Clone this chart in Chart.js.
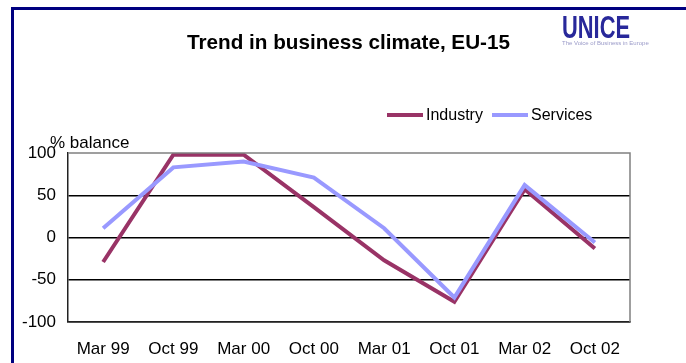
<!DOCTYPE html>
<html>
<head>
<meta charset="utf-8">
<script src="https://cdn.jsdelivr.net/npm/chart.js@4"></script>
<style>
  body { margin: 0; background: #fff; }
  .wrap { position: relative; width: 686px; height: 363px; }
</style>
</head>
<body>
<div class="wrap"><canvas id="myChart"></canvas></div>
<script>
const ctx = document.getElementById('myChart').getContext('2d');

const FONT = "'Liberation Sans', Arial, sans-serif";
const categories = ['Mar 99', 'Oct 99', 'Mar 00', 'Oct 00', 'Mar 01', 'Oct 01', 'Mar 02', 'Oct 02'];
const industry = [-29, 98, 98, 36, -27, -76, 57, -13];
const services = [11, 83, 90, 71, 11, -71, 62, -6];
const yTicks = [-100, -50, 0, 50, 100];

// frame, title, logo, axis caption, legend
const decor = {
  id: 'decor',
  beforeDraw(chart) {
    const c = chart.ctx;
    c.save();
    c.fillStyle = '#fff';
    c.fillRect(0, 0, chart.width, chart.height);
    c.strokeStyle = '#000080';
    c.lineWidth = 3;
    c.strokeRect(12.5, 8.5, 800, 500);
    c.restore();
  },
  afterDraw(chart) {
    const c = chart.ctx;
    const a = chart.chartArea;
    c.save();
    // top + right border of plot area in grey
    c.strokeStyle = '#808080';
    c.lineWidth = 1.5;
    c.beginPath();
    c.moveTo(a.left, a.top);
    c.lineTo(a.right, a.top);
    c.lineTo(a.right, a.bottom);
    c.stroke();

    c.fillStyle = '#000';
    c.textBaseline = 'alphabetic';
    c.textAlign = 'left';
    c.font = 'bold 21px ' + FONT;
    c.fillText('Trend in business climate, EU-15', 187, 49, 323);

    c.font = '17px ' + FONT;
    c.fillText('% balance', 50, 148);

    // logo
    c.fillStyle = '#28289a';
    c.font = 'bold 31px ' + FONT;
    c.fillText('UNICE', 562, 38, 68);
    c.fillStyle = '#9a9ac8';
    c.font = '6px ' + FONT;
    c.fillText('The Voice of Business in Europe', 562, 45, 106);

    // legend
    c.font = '16px ' + FONT;
    c.textBaseline = 'middle';
    const legendX = [387, 492];
    chart.data.datasets.forEach((ds, i) => {
      const x = legendX[i];
      c.strokeStyle = ds.borderColor;
      c.lineWidth = 4;
      c.beginPath();
      c.moveTo(x, 115);
      c.lineTo(x + 36, 115);
      c.stroke();
      c.fillStyle = '#000';
      c.fillText(ds.label, x + 39, 116);
    });
    c.restore();
  }
};

const myChart = new Chart(ctx, {
  type: 'line',
  data: {
    labels: categories,
    datasets: [{
      label: 'Industry',
      data: industry,
      borderColor: '#993366',
      borderWidth: 4,
      pointRadius: 0,
      tension: 0,
      order: 2,
    }, {
      label: 'Services',
      data: services,
      borderColor: '#9999ff',
      borderWidth: 4,
      pointRadius: 0,
      tension: 0,
      order: 1,
    }]
  },
  options: {
    responsive: true,
    maintainAspectRatio: false,
    animation: false,
    events: [],
    layout: {
      padding: {left: 0, top: 153, right: 56, bottom: 0}
    },
    plugins: {
      legend: {display: false},
      title: {display: false},
      tooltip: {enabled: false},
    },
    scales: {
      x: {
        offset: true,
        grid: {display: false, drawTicks: false},
        border: {color: '#222', width: 1.5},
        ticks: {
          color: '#000',
          padding: 17,
          maxRotation: 0,
          autoSkip: false,
          font: {family: FONT, size: 17},
        },
        afterFit(scale) { scale.height = 41; },
      },
      y: {
        min: -100,
        max: 100,
        afterBuildTicks(scale) { scale.ticks = yTicks.map(v => ({value: v})); },
        grid: {
          drawTicks: false,
          color: (c) => c.tick && c.tick.value === 100 ? 'rgba(0,0,0,0)' : '#000',
          lineWidth: 1.5,
        },
        border: {color: '#222', width: 1.5},
        ticks: {
          color: '#000',
          padding: 12,
          font: {family: FONT, size: 17},
        },
        afterFit(scale) { scale.width = 68; },
      }
    }
  },
  plugins: [decor]
});
</script>
</body>
</html>
